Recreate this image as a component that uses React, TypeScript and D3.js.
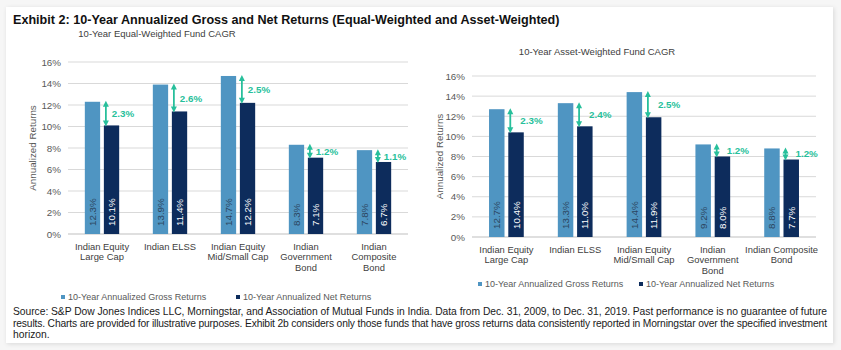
import React from "react";
import * as d3 from "d3";

// categories (line breaks as shown under each group)
const ewCategories = ["Indian Equity|Large Cap", "Indian ELSS", "Indian Equity|Mid/Small Cap", "Indian|Government|Bond", "Indian|Composite|Bond"];
const awCategories = ["Indian Equity|Large Cap", "Indian ELSS", "Indian Equity|Mid/Small Cap", "Indian|Government|Bond", "Indian Composite|Bond"];

// equal-weighted
const ewGross = [12.3, 13.9, 14.7, 8.3, 7.8];
const ewNet = [10.1, 11.4, 12.2, 7.1, 6.7];
const ewDiff = ["2.3%", "2.6%", "2.5%", "1.2%", "1.1%"];

// asset-weighted
const awGross = [12.7, 13.3, 14.4, 9.2, 8.8];
const awNet = [10.4, 11.0, 11.9, 8.0, 7.7];
const awDiff = ["2.3%", "2.4%", "2.5%", "1.2%", "1.2%"];

const yTicks = [0, 2, 4, 6, 8, 10, 12, 14, 16];

const GROSS = "#4f95c2";
const NET = "#0d2c5c";
const TEAL = "#27bf9b";
const FONT = "'Liberation Sans', Arial, sans-serif";

interface PanelProps {
  title: string;
  titleX: number;
  titleY: number;
  x0: number;
  x1: number;
  yTop: number;
  yBottom: number;
  categories: string[];
  gross: number[];
  net: number[];
  diff: string[];
  labelDx: number;
  legendY: number;
  legendX: [number, number];
  yTitleX: number;
}

const Panel: React.FC<PanelProps> = (p) => {
  const x = d3.scaleBand().domain(p.categories).range([p.x0, p.x1]);
  const y = d3.scaleLinear().domain([0, 16]).range([p.yBottom, p.yTop]);
  const bw = x.bandwidth() * 0.225;
  const gap = x.bandwidth() * 0.055;

  return (
    <g fontFamily={FONT}>
      <text x={p.titleX} y={p.titleY} fontSize={9.5} fill="#404040" textAnchor="middle">{p.title}</text>
      {/* gridlines */}
      {yTicks.map((t) => (
        <g key={t}>
          <line x1={p.x0} x2={p.x1} y1={y(t)} y2={y(t)} stroke={t === 0 ? "#bfbfbf" : "#d9d9d9"} strokeWidth={1} />
          <text x={p.x0 - 7} y={y(t) + 3.5} fontSize={9.8} fill="#595959" textAnchor="end">{t}%</text>
        </g>
      ))}
      <text transform={`translate(${p.yTitleX},${(p.yTop + p.yBottom) / 2}) rotate(-90)`} fontSize={9.8} fill="#595959" textAnchor="middle">Annualized Returns</text>
      {p.categories.map((c, i) => {
        const cx = (x(c) as number) + x.bandwidth() / 2;
        const gx = cx - gap / 2 - bw;
        const nx = cx + gap / 2;
        const ax = nx + 2;
        const yg = y(p.gross[i]);
        const yn = y(p.net[i]);
        const mid = (yg + yn) / 2;
        return (
          <g key={c}>
            <rect x={gx} y={yg} width={bw} height={p.yBottom - yg} fill={GROSS} />
            <rect x={nx} y={yn} width={bw} height={p.yBottom - yn} fill={NET} />
            <text transform={`translate(${gx + bw / 2 + 3.5},${p.yBottom - 8}) rotate(-90)`} fontSize={9.8} fill="#2c4560">{p.gross[i].toFixed(1)}%</text>
            <text transform={`translate(${nx + bw / 2 + 3.5},${p.yBottom - 8}) rotate(-90)`} fontSize={9.8} fill="#ffffff">{p.net[i].toFixed(1)}%</text>
            {/* difference arrow */}
            <line x1={ax} x2={ax} y1={yg + 4} y2={yn - 4} stroke={TEAL} strokeWidth={1.8} />
            <path d={`M${ax - 3},${yg + 5} L${ax},${yg - 1} L${ax + 3},${yg + 5} Z`} fill={TEAL} />
            <path d={`M${ax - 3},${yn - 5} L${ax},${yn + 1} L${ax + 3},${yn - 5} Z`} fill={TEAL} />
            <text x={ax + p.labelDx} y={mid + 3.5} fontSize={9.8} fontWeight="bold" fill={TEAL}>{p.diff[i]}</text>
            {c.split("|").map((ln, k) => (
              <text key={k} x={cx} y={p.yBottom + 15.5 + k * 10.8} fontSize={9.4} fill="#404040" textAnchor="middle">{ln}</text>
            ))}
          </g>
        );
      })}
      {/* legend */}
      <rect x={p.legendX[0] - 2} y={p.legendY - 2} width={4} height={4} fill={GROSS} />
      <text x={p.legendX[0] + 5} y={p.legendY + 3.3} fontSize={9} fill="#595959">10-Year Annualized Gross Returns</text>
      <rect x={p.legendX[1] - 2} y={p.legendY - 2} width={4} height={4} fill={NET} />
      <text x={p.legendX[1] + 5} y={p.legendY + 3.3} fontSize={9} fill="#595959">10-Year Annualized Net Returns</text>
    </g>
  );
};

export default function App() {
  return (
    <svg width={841} height={350} style={{ position: "absolute", left: 0, top: 0, background: "#f6f6f6" }}>
      <defs>
        <filter id="sh" x="-5%" y="-5%" width="110%" height="110%">
          <feDropShadow dx={1} dy={1} stdDeviation={2} floodColor="#000" floodOpacity={0.12} />
        </filter>
      </defs>
      <rect x={6} y={7} width={827} height={336} fill="#ffffff" filter="url(#sh)" />
      <text x={13} y={23.5} fontFamily={FONT} fontSize={12.6} fontWeight="bold" fill="#111">
        Exhibit 2: 10-Year Annualized Gross and Net Returns (Equal-Weighted and Asset-Weighted)
      </text>
      <Panel
        title="10-Year Equal-Weighted Fund CAGR"
        titleX={157}
        titleY={37}
        x0={68}
        x1={408}
        yTop={62}
        yBottom={234}
        categories={ewCategories}
        gross={ewGross}
        net={ewNet}
        diff={ewDiff}
        labelDx={6}
        legendY={297}
        legendX={[63, 238]}
        yTitleX={36}
      />
      <Panel
        title="10-Year Asset-Weighted Fund CAGR"
        titleX={597}
        titleY={55}
        x0={472}
        x1={816}
        yTop={76}
        yBottom={237}
        categories={awCategories}
        gross={awGross}
        net={awNet}
        diff={awDiff}
        labelDx={10}
        legendY={284}
        legendX={[480, 641]}
        yTitleX={443}
      />
      <g fontFamily={FONT} fontSize={10.3} fill="#1a1a1a">
        <text x={13} y={315} textLength={814} lengthAdjust="spacing">Source: S&amp;P Dow Jones Indices LLC, Morningstar, and Association of Mutual Funds in India. Data from Dec. 31, 2009, to Dec. 31, 2019. Past performance is no guarantee of future</text>
        <text x={13} y={326.5} textLength={814} lengthAdjust="spacing">results. Charts are provided for illustrative purposes. Exhibit 2b considers only those funds that have gross returns data consistently reported in Morningstar over the specified investment</text>
        <text x={13} y={338}>horizon.</text>
      </g>
    </svg>
  );
}
